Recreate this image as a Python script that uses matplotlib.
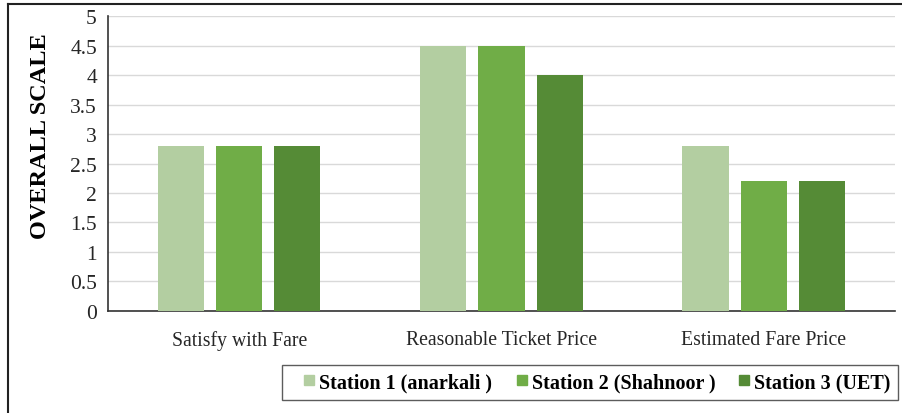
import matplotlib
matplotlib.use("Agg")
import matplotlib.pyplot as plt
from matplotlib.lines import Line2D
import numpy as np

plt.rcParams['font.family'] = ['Liberation Serif', 'DejaVu Serif']

categories = ['Satisfy with Fare', 'Reasonable Ticket Price', 'Estimated Fare Price']
stations = ['Station 1 (anarkali )', 'Station 2 (Shahnoor )', 'Station 3 (UET)']
station1 = [2.8, 4.5, 2.8]
station2 = [2.8, 4.5, 2.2]
station3 = [2.8, 4.0, 2.2]
colors = ['#b3cea1', '#70ad47', '#558b36']

fig = plt.figure(figsize=(9.03, 4.14), dpi=100)
ax = fig.add_axes([0.1196, 0.2464, 0.8714, 0.7125])

x = np.arange(len(categories))
width = 0.176
step = 0.222
for i, vals in enumerate([station1, station2, station3]):
    ax.bar(x + (i - 1) * step, vals, width, color=colors[i], zorder=3)

ax.set_xlim(-0.5, 2.5)
ax.set_ylim(0, 5)
ax.set_yticks(np.arange(0, 5.01, 0.5))
ax.set_yticklabels(['0', '0.5', '1', '1.5', '2', '2.5', '3', '3.5', '4', '4.5', '5'])
ax.set_xticks(x)
ax.set_xticklabels(categories, fontsize=14.2)
ax.tick_params(axis='both', length=0, colors='#262626')
ax.tick_params(axis='y', labelsize=15.5, pad=8)
ax.tick_params(axis='x', pad=14)
ax.yaxis.grid(True, color='#d9d9d9', linewidth=1, zorder=0)
for s in ['top', 'right']:
    ax.spines[s].set_visible(False)
for s in ['left', 'bottom']:
    ax.spines[s].set_color('#333333')
    ax.spines[s].set_linewidth(1.2)
ax.set_ylabel('OVERALL SCALE', fontsize=17.5, fontweight='bold')
ax.yaxis.set_label_coords(-0.073, 0.597)

# square legend markers
handles = [Line2D([], [], linestyle='none', marker='s', markersize=7.5,
                  markerfacecolor=c, markeredgecolor=c) for c in colors]
leg = fig.legend(handles, stations, loc='center', bbox_to_anchor=(590 / 903, 1 - 383.5 / 414),
                 ncol=3, frameon=True, fancybox=False, edgecolor='#333333',
                 prop={'weight': 'bold', 'size': 14.5}, handlelength=2.0,
                 handletextpad=-0.5, columnspacing=0.45, borderpad=0.37)
leg.get_frame().set_linewidth(1.0)

# outer border of the figure
fig.add_artist(Line2D([8 / 903, 8 / 903], [0, 1 - 5 / 414], color='#222222', lw=1.5, transform=fig.transFigure))
fig.add_artist(Line2D([8 / 903, 1], [1 - 5 / 414, 1 - 5 / 414], color='#222222', lw=1.5, transform=fig.transFigure))

fig.savefig('out.png', dpi=100)
